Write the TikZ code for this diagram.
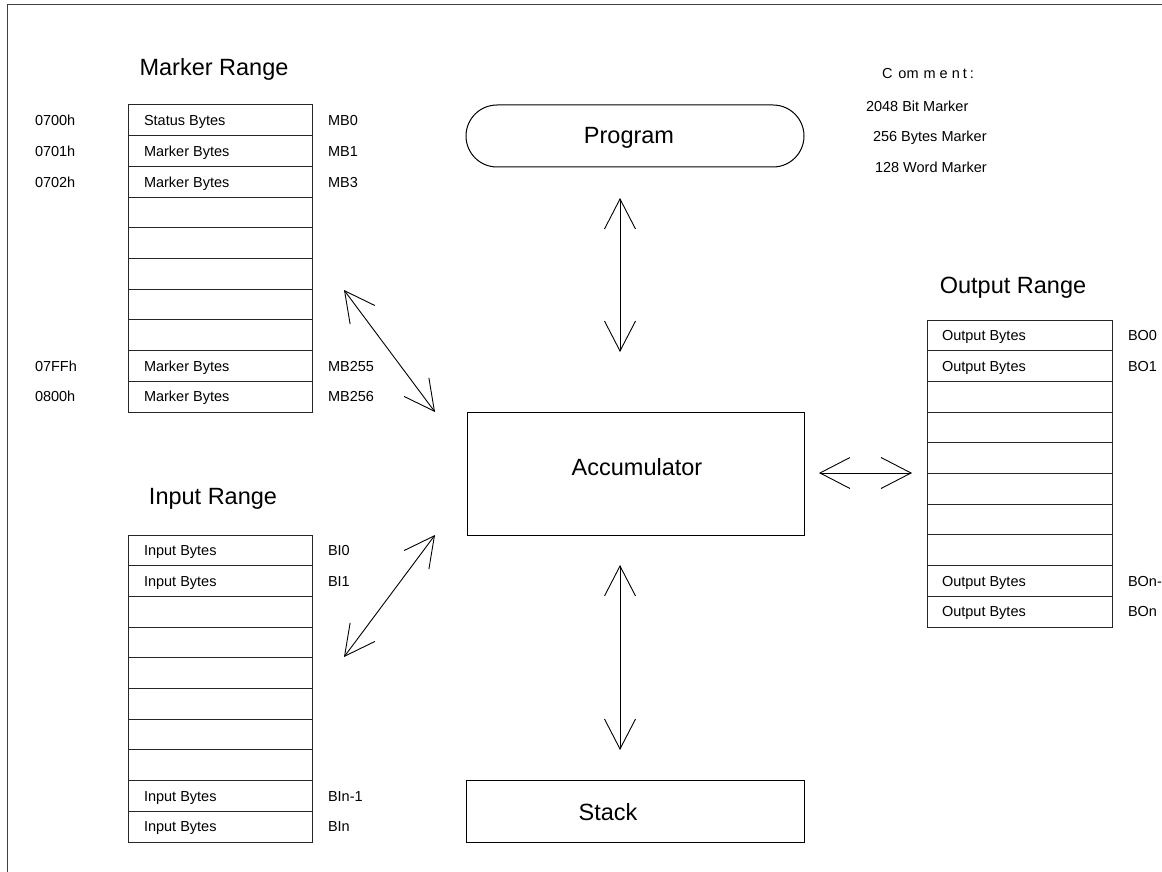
\documentclass[tikz,border=0pt]{standalone}
\usepackage{fontspec}
\setmainfont{Liberation Sans}
\usetikzlibrary{arrows.meta}
\begin{document}
\begin{tikzpicture}[x=1pt,y=-1pt,
  every node/.style={inner sep=0pt, outer sep=0pt},
  small/.style={font=\fontsize{14.5}{17}\selectfont},
  big/.style={font=\fontsize{23.5}{28}\selectfont},
  cell/.style={draw=black!85, line width=1pt, minimum width=#1, minimum height=30.7pt, anchor=north west},
  cell/.default=184pt,
  box/.style={draw=black, line width=1pt},
  barb/.style={Straight Barb[length=30pt,width=31pt]},
  dbl/.style={line width=0.9pt, {Straight Barb[length=30pt,width=31pt]}-{Straight Barb[length=30pt,width=31pt]}},
]
\useasboundingbox (0,0) rectangle (1162,872);
\clip (0,0) rectangle (1162,872);

% frame
\draw[line width=1.5pt, black!75] (7.5,872) -- (7.5,4.5) -- (1162,4.5);

% ---------- marker range ----------
\node[big, anchor=base] (mtitle) at (214,76) {Marker Range};
\foreach \r in {0,...,9}
  \node[cell] (m\r) at (128,105+\r*30.7) {};
\foreach \r/\addr/\txt/\mb in {0/0700h/Status Bytes/MB0, 1/0701h/Marker Bytes/MB1,
    2/0702h/Marker Bytes/MB3, 8/07FFh/Marker Bytes/MB255, 9/0800h/Marker Bytes/MB256}{
  \node[small, anchor=base west] (ma\r) at (35,125.6+\r*30.7) {\addr};
  \node[small, anchor=base west] (mt\r) at (144,125.6+\r*30.7) {\txt};
  \node[small, anchor=base west] (mb\r) at (328,125.6+\r*30.7) {\mb};
}

% ---------- input range ----------
\node[big, anchor=base] (ititle) at (213,504) {Input Range};
\foreach \r in {0,...,9}
  \node[cell] (i\r) at (128,535+\r*30.7) {};
\foreach \r/\txt/\bi in {0/Input Bytes/BI0, 1/Input Bytes/BI1,
    8/Input Bytes/BIn-1, 9/Input Bytes/BIn}{
  \node[small, anchor=base west] (it\r) at (144,555.6+\r*30.7) {\txt};
  \node[small, anchor=base west] (ib\r) at (328,555.6+\r*30.7) {\bi};
}

% ---------- output range ----------
\node[big, anchor=base] (otitle) at (1013,293) {Output Range};
\foreach \r in {0,...,9}
  \node[cell=185pt] (o\r) at (927,320+\r*30.7) {};
\foreach \r/\txt/\bo in {0/Output Bytes/BO0, 1/Output Bytes/BO1,
    8/Output Bytes/BOn-1, 9/Output Bytes/BOn}{
  \node[small, anchor=base west] (ot\r) at (942,340.6+\r*30.7) {\txt};
  \node[small, anchor=base west] (ob\r) at (1128,340.6+\r*30.7) {\bo};
}

% ---------- comment ----------
\node[small, anchor=base west] (cm) at (882,79)
  {C\hspace{6pt}om\hspace{5pt}m\hspace{4pt}e\hspace{4pt}n\hspace{3pt}t\hspace{3pt}:};
\node[small, anchor=base west] (c1) at (866,112) {2048 Bit Marker};
\node[small, anchor=base west] (c2) at (873,142) {256 Bytes Marker};
\node[small, anchor=base west] (c3) at (875,172) {128 Word Marker};

% ---------- central blocks ----------
\node[box, rounded corners=31pt, minimum width=338pt, minimum height=62pt] (prog) at (635,136) {};
\node[big, anchor=base] (progt) at (629,144) {Program};

\node[box, minimum width=337pt, minimum height=123pt] (acc) at (635.5,473.5) {};
\node[big, anchor=base] (acct) at (637,475) {Accumulator};

\node[box, minimum width=338pt, minimum height=62pt] (stack) at (635,811) {};
\node[big, anchor=base] (stackt) at (608,820) {Stack};

% ---------- data paths ----------
\coordinate (pA) at (620,198);
\coordinate (pB) at (620,352);
\coordinate (sA) at (620,565);
\coordinate (sB) at (620,750);
\coordinate (oA) at (819,473);
\coordinate (oB) at (912,473);
\coordinate (mA) at (344,290);
\coordinate (mB) at (435,412);
\coordinate (iA) at (435,535);
\coordinate (iB) at (344,657);

\draw[dbl] (pA) -- (pB);
\draw[dbl] (sA) -- (sB);
\draw[dbl] (oA) -- (oB);
\draw[dbl] (mA) -- (mB);
\draw[dbl] (iA) -- (iB);
\end{tikzpicture}
\end{document}
